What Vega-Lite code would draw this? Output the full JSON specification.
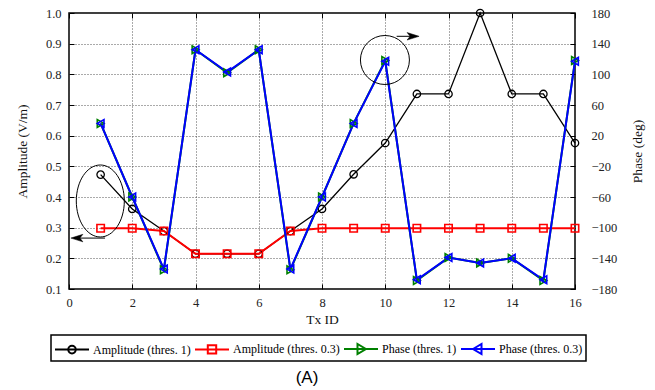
{
  "$schema": "https://vega.github.io/schema/vega-lite/v6.json",
  "width": 506,
  "height": 276,
  "autosize": {"type": "none"},
  "padding": {"left": 69, "top": 13, "right": 80, "bottom": 101},
  "background": "white",
  "title": {"text": "(A)", "orient": "bottom", "anchor": "middle", "font": "Liberation Sans", "fontSize": 17, "fontWeight": "normal", "color": "#000", "offset": 8, "dx": -15},
  "config": {
    "view": {"stroke": "#000", "strokeWidth": 1.5},
    "axis": {
      "labelFont": "Liberation Serif", "labelFontSize": 12.5, "labelColor": "#222",
      "titleFont": "Liberation Serif", "titleFontSize": 13.5, "titleFontWeight": "normal", "titleColor": "#111",
      "tickColor": "#000", "tickSize": -5, "tickWidth": 1, "domain": false,
      "gridColor": "#444", "gridDash": [1, 2], "gridOpacity": 0.9
    }
  },
  "datasets": {
    "amp": [
      {"tx": 1, "series": "Amplitude (thres. 1)", "v": 0.473},
      {"tx": 2, "series": "Amplitude (thres. 1)", "v": 0.361},
      {"tx": 3, "series": "Amplitude (thres. 1)", "v": 0.289},
      {"tx": 4, "series": "Amplitude (thres. 1)", "v": 0.215},
      {"tx": 5, "series": "Amplitude (thres. 1)", "v": 0.215},
      {"tx": 6, "series": "Amplitude (thres. 1)", "v": 0.215},
      {"tx": 7, "series": "Amplitude (thres. 1)", "v": 0.289},
      {"tx": 8, "series": "Amplitude (thres. 1)", "v": 0.361},
      {"tx": 9, "series": "Amplitude (thres. 1)", "v": 0.474},
      {"tx": 10, "series": "Amplitude (thres. 1)", "v": 0.576},
      {"tx": 11, "series": "Amplitude (thres. 1)", "v": 0.736},
      {"tx": 12, "series": "Amplitude (thres. 1)", "v": 0.736},
      {"tx": 13, "series": "Amplitude (thres. 1)", "v": 1.0},
      {"tx": 14, "series": "Amplitude (thres. 1)", "v": 0.736},
      {"tx": 15, "series": "Amplitude (thres. 1)", "v": 0.736},
      {"tx": 16, "series": "Amplitude (thres. 1)", "v": 0.576},
      {"tx": 1, "series": "Amplitude (thres. 0.3)", "v": 0.298},
      {"tx": 2, "series": "Amplitude (thres. 0.3)", "v": 0.298},
      {"tx": 3, "series": "Amplitude (thres. 0.3)", "v": 0.289},
      {"tx": 4, "series": "Amplitude (thres. 0.3)", "v": 0.215},
      {"tx": 5, "series": "Amplitude (thres. 0.3)", "v": 0.215},
      {"tx": 6, "series": "Amplitude (thres. 0.3)", "v": 0.215},
      {"tx": 7, "series": "Amplitude (thres. 0.3)", "v": 0.289},
      {"tx": 8, "series": "Amplitude (thres. 0.3)", "v": 0.298},
      {"tx": 9, "series": "Amplitude (thres. 0.3)", "v": 0.298},
      {"tx": 10, "series": "Amplitude (thres. 0.3)", "v": 0.298},
      {"tx": 11, "series": "Amplitude (thres. 0.3)", "v": 0.298},
      {"tx": 12, "series": "Amplitude (thres. 0.3)", "v": 0.298},
      {"tx": 13, "series": "Amplitude (thres. 0.3)", "v": 0.298},
      {"tx": 14, "series": "Amplitude (thres. 0.3)", "v": 0.298},
      {"tx": 15, "series": "Amplitude (thres. 0.3)", "v": 0.298},
      {"tx": 16, "series": "Amplitude (thres. 0.3)", "v": 0.298}
    ],
    "phase": [
      {"tx": 1, "series": "Phase (thres. 1)", "v": 36},
      {"tx": 2, "series": "Phase (thres. 1)", "v": -60},
      {"tx": 3, "series": "Phase (thres. 1)", "v": -155},
      {"tx": 4, "series": "Phase (thres. 1)", "v": 132},
      {"tx": 5, "series": "Phase (thres. 1)", "v": 102},
      {"tx": 6, "series": "Phase (thres. 1)", "v": 132},
      {"tx": 7, "series": "Phase (thres. 1)", "v": -155},
      {"tx": 8, "series": "Phase (thres. 1)", "v": -60},
      {"tx": 9, "series": "Phase (thres. 1)", "v": 36},
      {"tx": 10, "series": "Phase (thres. 1)", "v": 118},
      {"tx": 11, "series": "Phase (thres. 1)", "v": -169},
      {"tx": 12, "series": "Phase (thres. 1)", "v": -139},
      {"tx": 13, "series": "Phase (thres. 1)", "v": -146},
      {"tx": 14, "series": "Phase (thres. 1)", "v": -140},
      {"tx": 15, "series": "Phase (thres. 1)", "v": -169},
      {"tx": 16, "series": "Phase (thres. 1)", "v": 118},
      {"tx": 1, "series": "Phase (thres. 0.3)", "v": 36},
      {"tx": 2, "series": "Phase (thres. 0.3)", "v": -60},
      {"tx": 3, "series": "Phase (thres. 0.3)", "v": -154},
      {"tx": 4, "series": "Phase (thres. 0.3)", "v": 132},
      {"tx": 5, "series": "Phase (thres. 0.3)", "v": 103},
      {"tx": 6, "series": "Phase (thres. 0.3)", "v": 132},
      {"tx": 7, "series": "Phase (thres. 0.3)", "v": -154},
      {"tx": 8, "series": "Phase (thres. 0.3)", "v": -60},
      {"tx": 9, "series": "Phase (thres. 0.3)", "v": 36},
      {"tx": 10, "series": "Phase (thres. 0.3)", "v": 117},
      {"tx": 11, "series": "Phase (thres. 0.3)", "v": -168},
      {"tx": 12, "series": "Phase (thres. 0.3)", "v": -139},
      {"tx": 13, "series": "Phase (thres. 0.3)", "v": -146},
      {"tx": 14, "series": "Phase (thres. 0.3)", "v": -140},
      {"tx": 15, "series": "Phase (thres. 0.3)", "v": -168},
      {"tx": 16, "series": "Phase (thres. 0.3)", "v": 117}
    ]
  },
  "layer": [
    {
      "data": {"name": "amp"},
      "mark": {"type": "line", "clip": false},
      "encoding": {
        "x": {"field": "tx", "type": "quantitative", "scale": {"domain": [0, 16], "nice": false},
          "axis": {"orient": "bottom", "values": [0, 2, 4, 6, 8, 10, 12, 14, 16], "title": "Tx ID", "labelPadding": 12, "labelFlush": false, "grid": true, "titlePadding": 4}},
        "y": {"field": "v", "type": "quantitative", "scale": {"domain": [0.1, 1.0], "nice": false, "zero": false},
          "axis": {"orient": "left", "values": [0.1, 0.2, 0.3, 0.4, 0.5, 0.6, 0.7, 0.8, 0.9, 1.0], "format": ".1f", "title": "Amplitude (V/m)", "labelPadding": 13, "grid": true, "titlePadding": 16}},
        "color": {"field": "series", "type": "nominal",
          "scale": {"domain": ["Amplitude (thres. 1)", "Amplitude (thres. 0.3)", "Phase (thres. 1)", "Phase (thres. 0.3)"], "range": ["#000000", "#ff0000", "#008000", "#0000ff"]},
          "legend": {
            "orient": "none", "legendX": -18, "legendY": 322, "direction": "horizontal", "columns": 4,
            "title": null, "strokeColor": "#000", "padding": 3, "symbolSize": 400, "symbolOffset": 7, "labelOffset": 10,
            "labelFont": "Liberation Serif", "labelFontSize": 12, "labelColor": "#000", "columnPadding": 0, "labelLimit": 0,
            "symbolOpacity": 1, "symbolFillColor": "transparent",
            "encoding": {
              "legend": {"strokeWidth": {"value": 1.5}},
              "symbols": {
                "shape": {"value": {"expr": "datum.value === 'Amplitude (thres. 1)' ? 'M-1.7,0L1.7,0M0.38,0A0.38,0.38,0,1,1,-0.38,0A0.38,0.38,0,1,1,0.38,0Z' : datum.value === 'Amplitude (thres. 0.3)' ? 'M-1.7,0L1.7,0M-0.42,-0.42L0.42,-0.42L0.42,0.42L-0.42,0.42Z' : datum.value === 'Phase (thres. 1)' ? 'M-1.7,0L1.7,0M0.5,0L-0.35,-0.5L-0.35,0.5Z' : 'M-1.7,0L1.7,0M-0.5,0L0.35,-0.5L0.35,0.5Z'"}},
                "fill": {"value": "transparent"},
                "strokeWidth": {"value": 2}
              }
            }
          }},
        "strokeWidth": {"condition": {"test": "datum.series === 'Amplitude (thres. 1)'", "value": 1.3}, "value": 2}
      }
    },
    {
      "data": {"name": "amp"},
      "mark": {"type": "point", "filled": false, "size": 55, "opacity": 1, "clip": false},
      "encoding": {
        "x": {"field": "tx", "type": "quantitative", "axis": null},
        "y": {"field": "v", "type": "quantitative", "axis": null, "scale": {"domain": [0.1, 1.0], "nice": false, "zero": false}},
        "color": {"field": "series", "type": "nominal", "legend": null},
        "shape": {"field": "series", "type": "nominal", "legend": null,
          "scale": {"domain": ["Phase (thres. 0.3)", "Phase (thres. 1)", "Amplitude (thres. 0.3)", "Amplitude (thres. 1)"], "range": ["triangle-left", "triangle-right", "square", "circle"]}},
        "strokeWidth": {"condition": {"test": "datum.series === 'Amplitude (thres. 1)'", "value": 1.3}, "value": 1.6}
      }
    },
    {
      "data": {"values": [{"ax": 0.99, "ay": 0.387}]},
      "mark": {"type": "point", "shape": "M0,-1A0.667,1,0,1,1,0,1A0.667,1,0,1,1,0,-1Z", "size": 5184, "filled": false, "stroke": "#000", "strokeWidth": 1, "opacity": 1},
      "encoding": {
        "x": {"field": "ax", "type": "quantitative", "axis": null},
        "y": {"field": "ay", "type": "quantitative", "axis": null, "scale": {"domain": [0.1, 1.0], "nice": false, "zero": false}}
      }
    },
    {
      "data": {"values": [{"ax": 1.14, "ax2": 0.2, "ay": 0.266}]},
      "mark": {"type": "rule", "stroke": "#000", "strokeWidth": 1},
      "encoding": {
        "x": {"field": "ax", "type": "quantitative", "axis": null},
        "x2": {"field": "ax2"},
        "y": {"field": "ay", "type": "quantitative", "axis": null, "scale": {"domain": [0.1, 1.0], "nice": false, "zero": false}}
      }
    },
    {
      "data": {"values": [{"ax": 0.06, "ay": 0.266}]},
      "mark": {"type": "point", "shape": "M0,0L1.6,-0.5L1.2,0L1.6,0.5Z", "size": 225, "filled": true, "fill": "#000", "stroke": "#000", "strokeWidth": 0.5, "opacity": 1},
      "encoding": {
        "x": {"field": "ax", "type": "quantitative", "axis": null},
        "y": {"field": "ay", "type": "quantitative", "axis": null, "scale": {"domain": [0.1, 1.0], "nice": false, "zero": false}}
      }
    },
    {
      "data": {"name": "phase"},
      "mark": {"type": "line", "clip": false, "strokeWidth": 2},
      "encoding": {
        "x": {"field": "tx", "type": "quantitative",
          "axis": {"orient": "top", "values": [0, 2, 4, 6, 8, 10, 12, 14, 16], "labels": false, "title": null, "grid": false}},
        "y": {"field": "v", "type": "quantitative", "scale": {"domain": [-180, 180], "nice": false, "zero": false},
          "axis": {"orient": "right", "values": [-180, -140, -100, -60, -20, 20, 60, 100, 140, 180], "title": "Phase (deg)", "labelPadding": 21, "grid": false, "titlePadding": 28, "titleAngle": 270}},
        "color": {"field": "series", "type": "nominal", "legend": null}
      }
    },
    {
      "data": {"name": "phase"},
      "mark": {"type": "point", "filled": false, "size": 60, "strokeWidth": 1.6, "opacity": 1, "clip": false},
      "encoding": {
        "x": {"field": "tx", "type": "quantitative", "axis": null},
        "y": {"field": "v", "type": "quantitative", "axis": null, "scale": {"domain": [-180, 180], "nice": false, "zero": false}},
        "color": {"field": "series", "type": "nominal", "legend": null},
        "shape": {"field": "series", "type": "nominal", "legend": null}
      }
    },
    {
      "data": {"values": [{"ax": 9.99, "ay": 118.7}]},
      "mark": {"type": "point", "shape": "circle", "size": 2401, "filled": false, "stroke": "#000", "strokeWidth": 1, "opacity": 1},
      "encoding": {
        "x": {"field": "ax", "type": "quantitative", "axis": null},
        "y": {"field": "ay", "type": "quantitative", "axis": null, "scale": {"domain": [-180, 180], "nice": false, "zero": false}}
      }
    },
    {
      "data": {"values": [{"ax": 10.36, "ax2": 10.95, "ay": 149.6}]},
      "mark": {"type": "rule", "stroke": "#000", "strokeWidth": 1},
      "encoding": {
        "x": {"field": "ax", "type": "quantitative", "axis": null},
        "x2": {"field": "ax2"},
        "y": {"field": "ay", "type": "quantitative", "axis": null, "scale": {"domain": [-180, 180], "nice": false, "zero": false}}
      }
    },
    {
      "data": {"values": [{"ax": 11.07, "ay": 149.6}]},
      "mark": {"type": "point", "shape": "M0,0L-1.6,-0.5L-1.2,0L-1.6,0.5Z", "size": 225, "filled": true, "fill": "#000", "stroke": "#000", "strokeWidth": 0.5, "opacity": 1},
      "encoding": {
        "x": {"field": "ax", "type": "quantitative", "axis": null},
        "y": {"field": "ay", "type": "quantitative", "axis": null, "scale": {"domain": [-180, 180], "nice": false, "zero": false}}
      }
    }
  ],
  "resolve": {"scale": {"y": "independent"}}
}
